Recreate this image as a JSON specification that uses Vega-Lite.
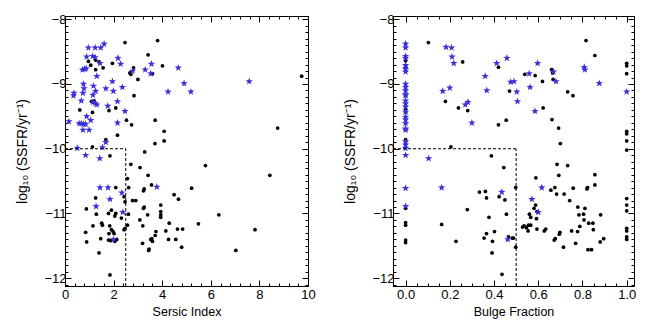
{
  "$schema": "https://vega.github.io/schema/vega-lite/v6.json",
  "padding": {"left": 15, "top": 12, "right": 5, "bottom": 5},
  "config": {
    "font": "Liberation Sans",
    "view": {"stroke": "black", "strokeWidth": 1},
    "axis": {"grid": false, "domainColor": "black", "tickColor": "black", "labelColor": "black", "titleColor": "black", "labelFontSize": 13, "titleFontSize": 14, "titleFontWeight": "normal", "labelFlush": false, "labelOverlap": false, "tickWidth": 1, "domainWidth": 1}
  },
  "datasets": {
    "sersic": [
      {"n":0.16,"ssfr":-9.58,"kind":"star"},{"n":0.37,"ssfr":-9.14,"kind":"star"},{"n":0.35,"ssfr":-9.18,"kind":"star"},{"n":0.67,"ssfr":-9.26,"kind":"star"},{"n":0.58,"ssfr":-9.61,"kind":"star"},{"n":0.67,"ssfr":-9.61,"kind":"star"},{"n":0.76,"ssfr":-9.62,"kind":"star"},{"n":0.85,"ssfr":-9.62,"kind":"star"},{"n":0.74,"ssfr":-9.71,"kind":"star"},{"n":0.99,"ssfr":-9.71,"kind":"star"},{"n":1.06,"ssfr":-9.56,"kind":"star"},{"n":0.89,"ssfr":-9.50,"kind":"star"},{"n":1.15,"ssfr":-9.28,"kind":"star"},{"n":1.24,"ssfr":-9.30,"kind":"star"},{"n":1.31,"ssfr":-9.32,"kind":"star"},{"n":1.15,"ssfr":-9.17,"kind":"star"},{"n":0.78,"ssfr":-9.07,"kind":"star"},{"n":0.76,"ssfr":-9.00,"kind":"star"},{"n":0.74,"ssfr":-9.14,"kind":"star"},{"n":1.26,"ssfr":-9.11,"kind":"star"},{"n":1.17,"ssfr":-9.03,"kind":"star"},{"n":1.31,"ssfr":-8.88,"kind":"star"},{"n":0.72,"ssfr":-8.78,"kind":"star"},{"n":0.81,"ssfr":-8.77,"kind":"star"},{"n":0.87,"ssfr":-8.76,"kind":"star"},{"n":0.89,"ssfr":-8.58,"kind":"star"},{"n":1.14,"ssfr":-8.57,"kind":"star"},{"n":1.24,"ssfr":-8.59,"kind":"star"},{"n":1.44,"ssfr":-8.68,"kind":"star"},{"n":0.96,"ssfr":-8.44,"kind":"star"},{"n":1.24,"ssfr":-8.44,"kind":"star"},{"n":1.47,"ssfr":-8.44,"kind":"star"},{"n":1.61,"ssfr":-8.38,"kind":"star"},{"n":1.68,"ssfr":-9.07,"kind":"star"},{"n":1.95,"ssfr":-8.96,"kind":"star"},{"n":1.99,"ssfr":-9.11,"kind":"star"},{"n":1.76,"ssfr":-9.34,"kind":"star"},{"n":2.16,"ssfr":-9.27,"kind":"star"},{"n":2.16,"ssfr":-9.60,"kind":"star"},{"n":2.18,"ssfr":-8.60,"kind":"star"},{"n":2.29,"ssfr":-8.69,"kind":"star"},{"n":2.36,"ssfr":-9.05,"kind":"star"},{"n":2.47,"ssfr":-9.42,"kind":"star"},{"n":3.30,"ssfr":-8.78,"kind":"star"},{"n":3.56,"ssfr":-8.69,"kind":"star"},{"n":3.53,"ssfr":-8.84,"kind":"star"},{"n":2.78,"ssfr":-8.80,"kind":"star"},{"n":4.66,"ssfr":-8.75,"kind":"star"},{"n":4.24,"ssfr":-9.12,"kind":"star"},{"n":4.90,"ssfr":-8.99,"kind":"star"},{"n":5.18,"ssfr":-9.12,"kind":"star"},{"n":7.58,"ssfr":-8.96,"kind":"star"},{"n":0.51,"ssfr":-9.99,"kind":"star"},{"n":0.85,"ssfr":-10.10,"kind":"star"},{"n":1.43,"ssfr":-10.15,"kind":"star"},{"n":1.54,"ssfr":-9.98,"kind":"star"},{"n":1.68,"ssfr":-9.90,"kind":"star"},{"n":1.44,"ssfr":-10.60,"kind":"star"},{"n":1.77,"ssfr":-10.60,"kind":"star"},{"n":2.34,"ssfr":-10.68,"kind":"star"},{"n":1.85,"ssfr":-10.78,"kind":"star"},{"n":1.28,"ssfr":-10.89,"kind":"star"},{"n":2.38,"ssfr":-10.98,"kind":"star"},{"n":1.99,"ssfr":-11.40,"kind":"star"},{"n":3.78,"ssfr":-10.59,"kind":"star"},
      {"n":2.47,"ssfr":-8.36,"kind":"dot"},{"n":3.81,"ssfr":-8.33,"kind":"dot"},{"n":3.42,"ssfr":-8.55,"kind":"dot"},{"n":4.01,"ssfr":-8.72,"kind":"dot"},{"n":0.96,"ssfr":-8.65,"kind":"dot"},{"n":1.06,"ssfr":-8.71,"kind":"dot"},{"n":1.26,"ssfr":-8.63,"kind":"dot"},{"n":1.40,"ssfr":-8.66,"kind":"dot"},{"n":1.57,"ssfr":-8.75,"kind":"dot"},{"n":1.26,"ssfr":-8.78,"kind":"dot"},{"n":1.95,"ssfr":-8.68,"kind":"dot"},{"n":2.82,"ssfr":-8.75,"kind":"dot"},{"n":2.67,"ssfr":-8.83,"kind":"dot"},{"n":2.71,"ssfr":-8.85,"kind":"dot"},{"n":3.00,"ssfr":-8.93,"kind":"dot"},{"n":3.60,"ssfr":-8.84,"kind":"dot"},{"n":2.84,"ssfr":-9.18,"kind":"dot"},{"n":1.09,"ssfr":-9.27,"kind":"dot"},{"n":1.20,"ssfr":-9.26,"kind":"dot"},{"n":1.13,"ssfr":-9.44,"kind":"dot"},{"n":0.61,"ssfr":-9.40,"kind":"dot"},{"n":1.81,"ssfr":-9.41,"kind":"dot"},{"n":2.09,"ssfr":-9.37,"kind":"dot"},{"n":2.53,"ssfr":-9.56,"kind":"dot"},{"n":2.74,"ssfr":-9.63,"kind":"dot"},{"n":3.71,"ssfr":-9.56,"kind":"dot"},{"n":4.08,"ssfr":-9.73,"kind":"dot"},{"n":4.08,"ssfr":-9.88,"kind":"dot"},{"n":3.70,"ssfr":-9.92,"kind":"dot"},{"n":2.16,"ssfr":-9.79,"kind":"dot"},{"n":1.68,"ssfr":-9.86,"kind":"dot"},{"n":1.13,"ssfr":-9.97,"kind":"dot"},{"n":1.85,"ssfr":-10.11,"kind":"dot"},{"n":3.28,"ssfr":-10.05,"kind":"dot"},{"n":9.74,"ssfr":-8.88,"kind":"dot"},{"n":8.75,"ssfr":-9.68,"kind":"dot"},{"n":2.71,"ssfr":-10.24,"kind":"dot"},{"n":3.09,"ssfr":-10.29,"kind":"dot"},{"n":3.42,"ssfr":-10.41,"kind":"dot"},{"n":2.57,"ssfr":-10.46,"kind":"dot"},{"n":2.62,"ssfr":-10.60,"kind":"dot"},{"n":3.56,"ssfr":-10.56,"kind":"dot"},{"n":3.26,"ssfr":-10.62,"kind":"dot"},{"n":3.23,"ssfr":-10.65,"kind":"dot"},{"n":5.78,"ssfr":-10.26,"kind":"dot"},{"n":8.43,"ssfr":-10.41,"kind":"dot"},{"n":5.21,"ssfr":-10.61,"kind":"dot"},{"n":4.49,"ssfr":-10.71,"kind":"dot"},{"n":4.67,"ssfr":-10.78,"kind":"dot"},{"n":5.49,"ssfr":-11.16,"kind":"dot"},{"n":6.33,"ssfr":-11.02,"kind":"dot"},{"n":7.82,"ssfr":-11.25,"kind":"dot"},{"n":7.03,"ssfr":-11.57,"kind":"dot"},{"n":2.09,"ssfr":-10.60,"kind":"dot"},{"n":1.26,"ssfr":-10.76,"kind":"dot"},{"n":0.88,"ssfr":-10.93,"kind":"dot"},{"n":1.29,"ssfr":-11.01,"kind":"dot"},{"n":1.91,"ssfr":-10.95,"kind":"dot"},{"n":2.43,"ssfr":-10.74,"kind":"dot"},{"n":2.47,"ssfr":-10.82,"kind":"dot"},{"n":2.78,"ssfr":-10.80,"kind":"dot"},{"n":2.91,"ssfr":-10.80,"kind":"dot"},{"n":3.26,"ssfr":-10.90,"kind":"dot"},{"n":3.23,"ssfr":-10.92,"kind":"dot"},{"n":3.94,"ssfr":-10.87,"kind":"dot"},{"n":3.94,"ssfr":-10.97,"kind":"dot"},{"n":3.94,"ssfr":-11.02,"kind":"dot"},{"n":3.94,"ssfr":-11.06,"kind":"dot"},{"n":3.40,"ssfr":-11.02,"kind":"dot"},{"n":2.61,"ssfr":-11.01,"kind":"dot"},{"n":1.79,"ssfr":-11.00,"kind":"dot"},{"n":2.09,"ssfr":-11.00,"kind":"dot"},{"n":2.05,"ssfr":-11.04,"kind":"dot"},{"n":2.32,"ssfr":-11.07,"kind":"dot"},{"n":3.08,"ssfr":-11.10,"kind":"dot"},{"n":1.15,"ssfr":-11.19,"kind":"dot"},{"n":1.51,"ssfr":-11.15,"kind":"dot"},{"n":1.54,"ssfr":-11.18,"kind":"dot"},{"n":1.84,"ssfr":-11.19,"kind":"dot"},{"n":1.91,"ssfr":-11.25,"kind":"dot"},{"n":1.81,"ssfr":-11.31,"kind":"dot"},{"n":2.02,"ssfr":-11.31,"kind":"dot"},{"n":1.98,"ssfr":-11.28,"kind":"dot"},{"n":2.43,"ssfr":-11.25,"kind":"dot"},{"n":2.47,"ssfr":-11.23,"kind":"dot"},{"n":2.57,"ssfr":-11.18,"kind":"dot"},{"n":3.20,"ssfr":-11.19,"kind":"dot"},{"n":0.85,"ssfr":-11.29,"kind":"dot"},{"n":0.89,"ssfr":-11.44,"kind":"dot"},{"n":1.47,"ssfr":-11.39,"kind":"dot"},{"n":1.79,"ssfr":-11.41,"kind":"dot"},{"n":1.88,"ssfr":-11.42,"kind":"dot"},{"n":2.05,"ssfr":-11.43,"kind":"dot"},{"n":2.13,"ssfr":-11.40,"kind":"dot"},{"n":3.19,"ssfr":-11.46,"kind":"dot"},{"n":3.53,"ssfr":-11.40,"kind":"dot"},{"n":3.60,"ssfr":-11.43,"kind":"dot"},{"n":3.46,"ssfr":-11.55,"kind":"dot"},{"n":3.44,"ssfr":-11.57,"kind":"dot"},{"n":3.74,"ssfr":-11.28,"kind":"dot"},{"n":3.71,"ssfr":-11.34,"kind":"dot"},{"n":4.29,"ssfr":-11.15,"kind":"dot"},{"n":4.15,"ssfr":-11.27,"kind":"dot"},{"n":4.26,"ssfr":-11.40,"kind":"dot"},{"n":4.56,"ssfr":-11.40,"kind":"dot"},{"n":4.63,"ssfr":-11.24,"kind":"dot"},{"n":4.84,"ssfr":-11.24,"kind":"dot"},{"n":4.80,"ssfr":-11.52,"kind":"dot"},{"n":1.40,"ssfr":-11.61,"kind":"dot"},{"n":1.85,"ssfr":-11.95,"kind":"dot"},{"n":3.57,"ssfr":-11.39,"kind":"dot"}
    ],
    "bulge": [
      {"bf":0,"ssfr":-8.38,"kind":"star"},{"bf":0,"ssfr":-8.44,"kind":"star"},{"bf":0,"ssfr":-8.57,"kind":"star"},{"bf":0,"ssfr":-8.60,"kind":"star"},{"bf":0,"ssfr":-8.71,"kind":"star"},{"bf":0,"ssfr":-8.77,"kind":"star"},{"bf":0,"ssfr":-8.81,"kind":"star"},{"bf":0,"ssfr":-9.00,"kind":"star"},{"bf":0,"ssfr":-9.05,"kind":"star"},{"bf":0,"ssfr":-9.10,"kind":"star"},{"bf":0,"ssfr":-9.16,"kind":"star"},{"bf":0,"ssfr":-9.18,"kind":"star"},{"bf":0,"ssfr":-9.26,"kind":"star"},{"bf":0,"ssfr":-9.30,"kind":"star"},{"bf":0,"ssfr":-9.35,"kind":"star"},{"bf":0,"ssfr":-9.43,"kind":"star"},{"bf":0,"ssfr":-9.51,"kind":"star"},{"bf":0,"ssfr":-9.55,"kind":"star"},{"bf":0,"ssfr":-9.61,"kind":"star"},{"bf":0,"ssfr":-9.69,"kind":"star"},{"bf":0,"ssfr":-9.71,"kind":"star"},{"bf":0,"ssfr":-9.89,"kind":"star"},{"bf":0,"ssfr":-9.94,"kind":"star"},{"bf":0,"ssfr":-9.99,"kind":"star"},{"bf":0,"ssfr":-10.10,"kind":"star"},{"bf":0,"ssfr":-10.61,"kind":"star"},{"bf":0,"ssfr":-10.89,"kind":"star"},
      {"bf":0.183,"ssfr":-8.43,"kind":"star"},{"bf":0.208,"ssfr":-8.44,"kind":"star"},{"bf":0.21,"ssfr":-8.58,"kind":"star"},{"bf":0.218,"ssfr":-8.68,"kind":"star"},{"bf":0.168,"ssfr":-9.11,"kind":"star"},{"bf":0.20,"ssfr":-9.06,"kind":"star"},{"bf":0.27,"ssfr":-9.32,"kind":"star"},{"bf":0.282,"ssfr":-9.28,"kind":"star"},{"bf":0.30,"ssfr":-9.60,"kind":"star"},{"bf":0.36,"ssfr":-8.88,"kind":"star"},{"bf":0.367,"ssfr":-9.10,"kind":"star"},{"bf":0.412,"ssfr":-8.68,"kind":"star"},{"bf":0.458,"ssfr":-8.60,"kind":"star"},{"bf":0.475,"ssfr":-8.97,"kind":"star"},{"bf":0.49,"ssfr":-8.96,"kind":"star"},{"bf":0.503,"ssfr":-9.12,"kind":"star"},{"bf":0.506,"ssfr":-9.27,"kind":"star"},{"bf":0.559,"ssfr":-8.84,"kind":"star"},{"bf":0.563,"ssfr":-9.05,"kind":"star"},{"bf":0.597,"ssfr":-8.68,"kind":"star"},{"bf":0.585,"ssfr":-9.42,"kind":"star"},{"bf":0.669,"ssfr":-8.81,"kind":"star"},{"bf":0.68,"ssfr":-8.96,"kind":"star"},{"bf":0.808,"ssfr":-8.74,"kind":"star"},{"bf":0.811,"ssfr":-8.78,"kind":"star"},{"bf":0.876,"ssfr":-8.99,"kind":"star"},{"bf":1.0,"ssfr":-9.12,"kind":"star"},{"bf":0.104,"ssfr":-10.15,"kind":"star"},{"bf":0.163,"ssfr":-10.60,"kind":"star"},{"bf":0.435,"ssfr":-10.67,"kind":"star"},{"bf":0.462,"ssfr":-11.40,"kind":"star"},{"bf":0.616,"ssfr":-10.60,"kind":"star"},{"bf":0.571,"ssfr":-10.78,"kind":"star"},{"bf":0.60,"ssfr":-10.98,"kind":"star"},
      {"bf":0,"ssfr":-8.64,"kind":"dot"},{"bf":0,"ssfr":-8.72,"kind":"dot"},{"bf":0,"ssfr":-8.74,"kind":"dot"},{"bf":0,"ssfr":-9.39,"kind":"dot"},{"bf":0,"ssfr":-9.44,"kind":"dot"},{"bf":0,"ssfr":-9.86,"kind":"dot"},{"bf":0,"ssfr":-9.89,"kind":"dot"},{"bf":0,"ssfr":-10.92,"kind":"dot"},{"bf":0,"ssfr":-11.14,"kind":"dot"},{"bf":0,"ssfr":-11.18,"kind":"dot"},{"bf":0,"ssfr":-11.41,"kind":"dot"},{"bf":0,"ssfr":-11.45,"kind":"dot"},
      {"bf":1,"ssfr":-8.68,"kind":"dot"},{"bf":1,"ssfr":-8.72,"kind":"dot"},{"bf":1,"ssfr":-8.84,"kind":"dot"},{"bf":1,"ssfr":-9.73,"kind":"dot"},{"bf":1,"ssfr":-9.77,"kind":"dot"},{"bf":1,"ssfr":-9.88,"kind":"dot"},{"bf":1,"ssfr":-10.02,"kind":"dot"},{"bf":1,"ssfr":-10.77,"kind":"dot"},{"bf":1,"ssfr":-10.87,"kind":"dot"},{"bf":1,"ssfr":-10.96,"kind":"dot"},{"bf":1,"ssfr":-11.23,"kind":"dot"},{"bf":1,"ssfr":-11.27,"kind":"dot"},{"bf":1,"ssfr":-11.36,"kind":"dot"},{"bf":1,"ssfr":-11.40,"kind":"dot"},
      {"bf":0.103,"ssfr":-8.36,"kind":"dot"},{"bf":0.258,"ssfr":-8.66,"kind":"dot"},{"bf":0.18,"ssfr":-9.27,"kind":"dot"},{"bf":0.239,"ssfr":-9.37,"kind":"dot"},{"bf":0.281,"ssfr":-9.41,"kind":"dot"},{"bf":0.42,"ssfr":-8.74,"kind":"dot"},{"bf":0.47,"ssfr":-9.11,"kind":"dot"},{"bf":0.455,"ssfr":-9.56,"kind":"dot"},{"bf":0.42,"ssfr":-9.63,"kind":"dot"},{"bf":0.205,"ssfr":-9.97,"kind":"dot"},{"bf":0.539,"ssfr":-8.85,"kind":"dot"},{"bf":0.586,"ssfr":-8.87,"kind":"dot"},{"bf":0.619,"ssfr":-8.96,"kind":"dot"},{"bf":0.622,"ssfr":-9.37,"kind":"dot"},{"bf":0.66,"ssfr":-8.78,"kind":"dot"},{"bf":0.665,"ssfr":-8.83,"kind":"dot"},{"bf":0.667,"ssfr":-8.93,"kind":"dot"},{"bf":0.662,"ssfr":-9.55,"kind":"dot"},{"bf":0.692,"ssfr":-9.68,"kind":"dot"},{"bf":0.70,"ssfr":-9.92,"kind":"dot"},{"bf":0.733,"ssfr":-9.12,"kind":"dot"},{"bf":0.757,"ssfr":-9.18,"kind":"dot"},{"bf":0.816,"ssfr":-8.33,"kind":"dot"},{"bf":0.856,"ssfr":-8.56,"kind":"dot"},
      {"bf":0.685,"ssfr":-10.24,"kind":"dot"},{"bf":0.733,"ssfr":-10.26,"kind":"dot"},{"bf":0.589,"ssfr":-10.45,"kind":"dot"},{"bf":0.693,"ssfr":-10.41,"kind":"dot"},{"bf":0.856,"ssfr":-10.40,"kind":"dot"},{"bf":0.856,"ssfr":-10.56,"kind":"dot"},{"bf":0.498,"ssfr":-10.60,"kind":"dot"},{"bf":0.657,"ssfr":-10.64,"kind":"dot"},{"bf":0.675,"ssfr":-10.60,"kind":"dot"},{"bf":0.683,"ssfr":-10.70,"kind":"dot"},{"bf":0.717,"ssfr":-10.70,"kind":"dot"},{"bf":0.742,"ssfr":-10.80,"kind":"dot"},{"bf":0.758,"ssfr":-10.61,"kind":"dot"},{"bf":0.82,"ssfr":-10.62,"kind":"dot"},{"bf":0.823,"ssfr":-10.60,"kind":"dot"},{"bf":0.588,"ssfr":-10.87,"kind":"dot"},{"bf":0.581,"ssfr":-10.92,"kind":"dot"},{"bf":0.594,"ssfr":-10.97,"kind":"dot"},{"bf":0.56,"ssfr":-11.01,"kind":"dot"},{"bf":0.566,"ssfr":-11.06,"kind":"dot"},{"bf":0.592,"ssfr":-11.08,"kind":"dot"},{"bf":0.529,"ssfr":-11.21,"kind":"dot"},{"bf":0.536,"ssfr":-11.19,"kind":"dot"},{"bf":0.547,"ssfr":-11.22,"kind":"dot"},{"bf":0.556,"ssfr":-11.18,"kind":"dot"},{"bf":0.566,"ssfr":-11.18,"kind":"dot"},{"bf":0.554,"ssfr":-11.27,"kind":"dot"},{"bf":0.594,"ssfr":-11.24,"kind":"dot"},{"bf":0.627,"ssfr":-11.27,"kind":"dot"},{"bf":0.634,"ssfr":-11.24,"kind":"dot"},{"bf":0.672,"ssfr":-11.41,"kind":"dot"},{"bf":0.677,"ssfr":-11.39,"kind":"dot"},{"bf":0.695,"ssfr":-11.32,"kind":"dot"},{"bf":0.698,"ssfr":-11.29,"kind":"dot"},{"bf":0.714,"ssfr":-11.52,"kind":"dot"},{"bf":0.751,"ssfr":-11.27,"kind":"dot"},{"bf":0.778,"ssfr":-11.28,"kind":"dot"},{"bf":0.769,"ssfr":-11.46,"kind":"dot"},{"bf":0.779,"ssfr":-10.90,"kind":"dot"},{"bf":0.784,"ssfr":-11.02,"kind":"dot"},{"bf":0.805,"ssfr":-11.01,"kind":"dot"},{"bf":0.811,"ssfr":-10.92,"kind":"dot"},{"bf":0.807,"ssfr":-11.10,"kind":"dot"},{"bf":0.788,"ssfr":-11.20,"kind":"dot"},{"bf":0.828,"ssfr":-11.15,"kind":"dot"},{"bf":0.847,"ssfr":-11.15,"kind":"dot"},{"bf":0.849,"ssfr":-11.25,"kind":"dot"},{"bf":0.882,"ssfr":-11.02,"kind":"dot"},{"bf":0.825,"ssfr":-11.56,"kind":"dot"},{"bf":0.841,"ssfr":-11.56,"kind":"dot"},{"bf":0.88,"ssfr":-11.44,"kind":"dot"},{"bf":0.896,"ssfr":-11.39,"kind":"dot"},{"bf":0.488,"ssfr":-11.38,"kind":"dot"},{"bf":0.498,"ssfr":-11.52,"kind":"dot"},
      {"bf":0.388,"ssfr":-10.11,"kind":"dot"},{"bf":0.444,"ssfr":-10.29,"kind":"dot"},{"bf":0.334,"ssfr":-10.67,"kind":"dot"},{"bf":0.361,"ssfr":-10.66,"kind":"dot"},{"bf":0.366,"ssfr":-10.76,"kind":"dot"},{"bf":0.423,"ssfr":-10.74,"kind":"dot"},{"bf":0.449,"ssfr":-10.79,"kind":"dot"},{"bf":0.279,"ssfr":-10.94,"kind":"dot"},{"bf":0.377,"ssfr":-11.06,"kind":"dot"},{"bf":0.456,"ssfr":-11.01,"kind":"dot"},{"bf":0.163,"ssfr":-11.17,"kind":"dot"},{"bf":0.366,"ssfr":-11.31,"kind":"dot"},{"bf":0.402,"ssfr":-11.28,"kind":"dot"},{"bf":0.355,"ssfr":-11.38,"kind":"dot"},{"bf":0.393,"ssfr":-11.43,"kind":"dot"},{"bf":0.465,"ssfr":-11.36,"kind":"dot"},{"bf":0.482,"ssfr":-11.38,"kind":"dot"},{"bf":0.228,"ssfr":-11.43,"kind":"dot"},{"bf":0.391,"ssfr":-11.61,"kind":"dot"},{"bf":0.436,"ssfr":-11.94,"kind":"dot"}
    ],
    "sersicCut": [{"seg":"h","n":0,"n2":2.5,"ssfr":-10,"ssfr2":-10},{"seg":"v","n":2.5,"n2":2.5,"ssfr":-12.12,"ssfr2":-10}],
    "bulgeCut": [{"seg":"h","bf":-0.057,"bf2":0.5,"ssfr":-10,"ssfr2":-10},{"seg":"v","bf":0.5,"bf2":0.5,"ssfr":-12.12,"ssfr2":-10}]
  },
  "hconcat": [
    {
      "width": 243, "height": 270,
      "data": {"name": "sersic"},
      "layer": [
        {
          "transform": [{"filter": "datum.kind === 'dot'"}],
          "mark": {"type": "point", "shape": "circle", "filled": true, "size": 14, "color": "black", "opacity": 1},
          "encoding": {
            "x": {"field": "n", "type": "quantitative", "scale": {"domain": [0, 10], "nice": false, "zero": false},
                  "axis": {"orient": "bottom", "title": "Sersic Index", "titleFontSize": 12.5, "values": [0,2,4,6,8,10], "format": "d", "tickSize": -6, "labelPadding": 8, "titlePadding": 4, "labelOverlap": false, "labelFlush": false}},
            "y": {"field": "ssfr", "type": "quantitative", "scale": {"domain": [-12.12, -7.95], "nice": false, "zero": false},
                  "axis": {"orient": "left", "title": "log₁₀ (SSFR/yr⁻¹)", "values": [-12,-11,-10,-9,-8], "format": "d", "tickSize": -6, "labelPadding": 5, "titlePadding": 14, "labelOverlap": false, "labelFlush": false}}
          }
        },
        {
          "transform": [{"filter": "datum.kind === 'star'"}],
          "mark": {"type": "point", "shape": "M0,-1L0.235,-0.324L0.951,-0.309L0.38,0.124L0.588,0.809L0,0.4L-0.588,0.809L-0.38,0.124L-0.951,-0.309L-0.235,-0.324Z", "filled": true, "size": 60, "color": "#3b2fd9", "opacity": 1},
          "encoding": {
            "x": {"field": "n", "type": "quantitative", "scale": {"domain": [0, 10], "nice": false, "zero": false},
                  "axis": {"orient": "top", "title": null, "labels": false, "values": [0,2,4,6,8,10], "tickSize": -6}},
            "y": {"field": "ssfr", "type": "quantitative", "scale": {"domain": [-12.12, -7.95], "nice": false, "zero": false},
                  "axis": {"orient": "right", "title": null, "labels": false, "values": [-12,-11,-10,-9,-8], "tickSize": -6}}
          }
        },
        {
          "transform": [{"filter": "datum.seg === 'h'"}],
          "data": {"name": "sersicCut"},
          "mark": {"type": "rule", "color": "black", "strokeWidth": 1, "strokeDash": [3, 2]},
          "encoding": {
            "x": {"field": "n", "type": "quantitative", "axis": {"orient": "bottom", "title": null, "labels": false, "domain": false, "tickSize": -3, "values": [0.4,0.8,1.2,1.6,2.4,2.8,3.2,3.6,4.4,4.8,5.2,5.6,6.4,6.8,7.2,7.6,8.4,8.8,9.2,9.6]}},
            "x2": {"field": "n2"},
            "y": {"field": "ssfr", "type": "quantitative", "axis": {"orient": "left", "title": null, "labels": false, "domain": false, "tickSize": -3, "values": [-12.1,-11.9,-11.8,-11.7,-11.6,-11.5,-11.4,-11.3,-11.2,-11.1,-10.9,-10.8,-10.7,-10.6,-10.5,-10.4,-10.3,-10.2,-10.1,-9.9,-9.8,-9.7,-9.6,-9.5,-9.4,-9.3,-9.2,-9.1,-8.9,-8.8,-8.7,-8.6,-8.5,-8.4,-8.3,-8.2,-8.1]}}
          }
        },
        {
          "transform": [{"filter": "datum.seg === 'v'"}],
          "data": {"name": "sersicCut"},
          "mark": {"type": "rule", "color": "black", "strokeWidth": 1, "strokeDash": [3, 2]},
          "encoding": {
            "x": {"field": "n", "type": "quantitative", "axis": {"orient": "top", "title": null, "labels": false, "domain": false, "tickSize": -3, "values": [0.4,0.8,1.2,1.6,2.4,2.8,3.2,3.6,4.4,4.8,5.2,5.6,6.4,6.8,7.2,7.6,8.4,8.8,9.2,9.6]}},
            "y": {"field": "ssfr", "type": "quantitative", "axis": {"orient": "right", "title": null, "labels": false, "domain": false, "tickSize": -3, "values": [-12.1,-11.9,-11.8,-11.7,-11.6,-11.5,-11.4,-11.3,-11.2,-11.1,-10.9,-10.8,-10.7,-10.6,-10.5,-10.4,-10.3,-10.2,-10.1,-9.9,-9.8,-9.7,-9.6,-9.5,-9.4,-9.3,-9.2,-9.1,-8.9,-8.8,-8.7,-8.6,-8.5,-8.4,-8.3,-8.2,-8.1]}},
            "y2": {"field": "ssfr2"}
          }
        }
      ],
      "resolve": {"axis": {"x": "independent", "y": "independent"}}
    },
    {
      "width": 241, "height": 270,
      "data": {"name": "bulge"},
      "layer": [
        {
          "transform": [{"filter": "datum.kind === 'dot'"}],
          "mark": {"type": "point", "shape": "circle", "filled": true, "size": 14, "color": "black", "opacity": 1},
          "encoding": {
            "x": {"field": "bf", "type": "quantitative", "scale": {"domain": [-0.057, 1.033], "nice": false, "zero": false},
                  "axis": {"orient": "bottom", "title": "Bulge Fraction", "titleFontSize": 12.5, "values": [0,0.2,0.4,0.6,0.8,1], "format": ".1f", "tickSize": -6, "labelPadding": 8, "titlePadding": 4, "labelOverlap": false, "labelFlush": false}},
            "y": {"field": "ssfr", "type": "quantitative", "scale": {"domain": [-12.12, -7.95], "nice": false, "zero": false},
                  "axis": {"orient": "left", "title": "log₁₀ (SSFR/yr⁻¹)", "values": [-12,-11,-10,-9,-8], "format": "d", "tickSize": -6, "labelPadding": 5, "titlePadding": 14, "labelOverlap": false, "labelFlush": false}}
          }
        },
        {
          "transform": [{"filter": "datum.kind === 'star'"}],
          "mark": {"type": "point", "shape": "M0,-1L0.235,-0.324L0.951,-0.309L0.38,0.124L0.588,0.809L0,0.4L-0.588,0.809L-0.38,0.124L-0.951,-0.309L-0.235,-0.324Z", "filled": true, "size": 60, "color": "#3b2fd9", "opacity": 1},
          "encoding": {
            "x": {"field": "bf", "type": "quantitative", "scale": {"domain": [-0.057, 1.033], "nice": false, "zero": false},
                  "axis": {"orient": "top", "title": null, "labels": false, "values": [0,0.2,0.4,0.6,0.8,1], "tickSize": -6}},
            "y": {"field": "ssfr", "type": "quantitative", "scale": {"domain": [-12.12, -7.95], "nice": false, "zero": false},
                  "axis": {"orient": "right", "title": null, "labels": false, "values": [-12,-11,-10,-9,-8], "tickSize": -6}}
          }
        },
        {
          "transform": [{"filter": "datum.seg === 'h'"}],
          "data": {"name": "bulgeCut"},
          "mark": {"type": "rule", "color": "black", "strokeWidth": 1, "strokeDash": [3, 2]},
          "encoding": {
            "x": {"field": "bf", "type": "quantitative", "axis": {"orient": "bottom", "title": null, "labels": false, "domain": false, "tickSize": -3, "values": [0.05,0.1,0.15,0.25,0.3,0.35,0.45,0.5,0.55,0.65,0.7,0.75,0.85,0.9,0.95]}},
            "x2": {"field": "bf2"},
            "y": {"field": "ssfr", "type": "quantitative", "axis": {"orient": "left", "title": null, "labels": false, "domain": false, "tickSize": -3, "values": [-12.1,-11.9,-11.8,-11.7,-11.6,-11.5,-11.4,-11.3,-11.2,-11.1,-10.9,-10.8,-10.7,-10.6,-10.5,-10.4,-10.3,-10.2,-10.1,-9.9,-9.8,-9.7,-9.6,-9.5,-9.4,-9.3,-9.2,-9.1,-8.9,-8.8,-8.7,-8.6,-8.5,-8.4,-8.3,-8.2,-8.1]}}
          }
        },
        {
          "transform": [{"filter": "datum.seg === 'v'"}],
          "data": {"name": "bulgeCut"},
          "mark": {"type": "rule", "color": "black", "strokeWidth": 1, "strokeDash": [3, 2]},
          "encoding": {
            "x": {"field": "bf", "type": "quantitative", "axis": {"orient": "top", "title": null, "labels": false, "domain": false, "tickSize": -3, "values": [0.05,0.1,0.15,0.25,0.3,0.35,0.45,0.5,0.55,0.65,0.7,0.75,0.85,0.9,0.95]}},
            "y": {"field": "ssfr", "type": "quantitative", "axis": {"orient": "right", "title": null, "labels": false, "domain": false, "tickSize": -3, "values": [-12.1,-11.9,-11.8,-11.7,-11.6,-11.5,-11.4,-11.3,-11.2,-11.1,-10.9,-10.8,-10.7,-10.6,-10.5,-10.4,-10.3,-10.2,-10.1,-9.9,-9.8,-9.7,-9.6,-9.5,-9.4,-9.3,-9.2,-9.1,-8.9,-8.8,-8.7,-8.6,-8.5,-8.4,-8.3,-8.2,-8.1]}},
            "y2": {"field": "ssfr2"}
          }
        }
      ],
      "resolve": {"axis": {"x": "independent", "y": "independent"}}
    }
  ],
  "spacing": 85,
  "bounds": "flush"
}
